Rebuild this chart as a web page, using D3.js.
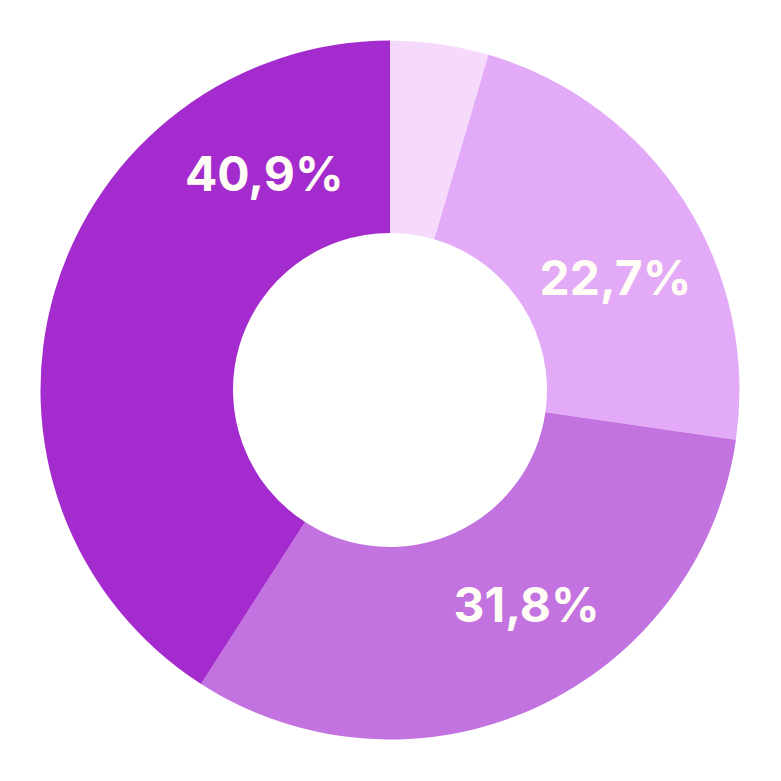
<!DOCTYPE html>
<html>
<head>
<meta charset="utf-8">
<script src="https://cdn.jsdelivr.net/npm/d3@7"></script>
<style>
html,body{margin:0;padding:0;background:#fff;}
svg{display:block;}
</style>
</head>
<body>
<svg id="chart" width="781" height="781"></svg>
<script>
const categories = ["A", "B", "C", "D"];
const values = [1, 5, 7, 9];
const labels = ["", "22,7%", "31,8%", "40,9%"];
const colors = ["#F5DAFC", "#E3AAF7", "#C273DF", "#A42BCE"];

// label placement (fraction along each slice's angular span)
const labelFrac = [0.5, 0.57, 0.43, 0.795];

const W = 781, H = 781, cx = 390, cy = 390;
const outerR = 349.5, innerR = 157;
const svg = d3.select("#chart");
const g = svg.append("g").attr("transform", `translate(${cx},${cy})`);

const pie = d3.pie().sort(null).value(d => d.v);
const data = categories.map((c, i) => ({c, v: values[i], i}));
const arcs = pie(data);
const arc = d3.arc().innerRadius(innerR).outerRadius(outerR);

g.selectAll("path.slice").data(arcs).join("path")
  .attr("class", "slice")
  .attr("d", arc)
  .attr("fill", d => colors[d.data.i]);

const labelR = 252;
g.selectAll("text.lbl").data(arcs.filter(d => labels[d.data.i])).join("text")
  .attr("class", "lbl")
  .attr("transform", d => {
    const a = d.startAngle + (d.endAngle - d.startAngle) * labelFrac[d.data.i];
    return `translate(${labelR * Math.sin(a) + 1},${-labelR * Math.cos(a) + 2})`;
  })
  .attr("text-anchor", "middle")
  .attr("dy", "0.36em")
  .attr("font-family", "Inter, 'Liberation Sans', Arial, sans-serif")
  .attr("font-weight", "bold")
  .attr("font-size", 48)
  .attr("fill", "#FFFDF5")
  .text(d => labels[d.data.i]);
</script>
</body>
</html>
